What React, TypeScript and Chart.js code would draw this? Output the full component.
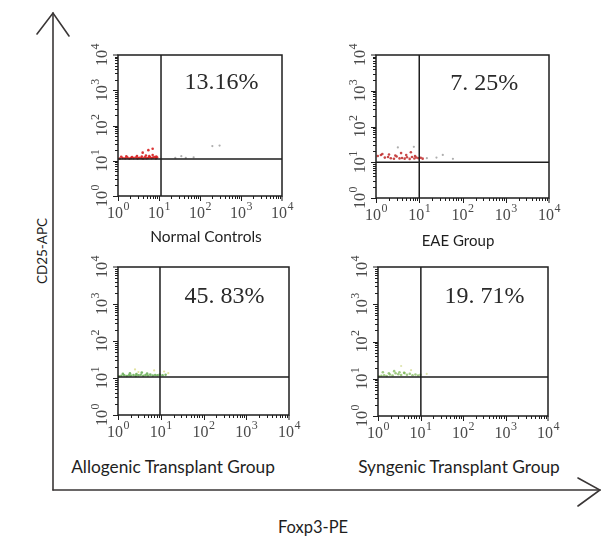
import React, { useEffect, useRef } from 'react';
import { Chart, registerables } from 'chart.js';

Chart.register(...registerables);

// ---------- data ----------
const panelNames = ['Normal Controls', 'EAE Group', 'Allogenic Transplant Group', 'Syngenic Transplant Group'];
const percentLabels = ['13.16%', '7. 25%', '45. 83%', '19. 71%'];
const decadeExponents = ['0', '1', '2', '3', '4'];
const gateX = [11.2, 10, 9.6, 10.2];
const gateY = [11.2, 10, 10.7, 11.2];

const normalX = [1.1, 1.3, 1.5, 1.7, 1.9, 2.1, 2.4, 2.7, 3.0, 3.3, 3.7, 4.1, 4.5, 5.0, 5.5, 6.0, 6.6, 7.2, 7.8, 8.4, 9.0, 1.2, 1.6, 2.2, 2.9, 3.8, 4.8, 5.8, 7.0, 8.6, 5.5, 7.0, 4.0];
const normalY = [11.5, 12.0, 11.8, 12.3, 11.6, 12.1, 11.9, 12.4, 11.7, 12.2, 12.0, 11.6, 12.5, 11.8, 12.2, 12.6, 11.9, 12.3, 12.8, 11.7, 12.4, 13.0, 13.4, 12.8, 13.6, 13.2, 14.0, 13.5, 14.5, 13.1, 20, 22, 17];
const normalOtherX = [35, 45, 200, 300, 70, 25];
const normalOtherY = [13.5, 12, 26, 27, 12.5, 12];

const eaeX = [1.1, 1.3, 1.6, 1.9, 2.2, 2.6, 3.0, 3.5, 4.0, 4.6, 5.2, 6.0, 6.8, 7.7, 8.6, 9.6, 10.8, 12.0, 1.4, 2.0, 2.8, 3.8, 5.0, 6.4, 8.0];
const eaeY = [15, 16, 13.5, 14, 13, 12.5, 14.5, 12.8, 13.2, 12.6, 13.8, 12.4, 14, 12.7, 13.6, 12.9, 13.3, 12.6, 17, 16.5, 15.5, 18, 16, 19, 15];
const eaeOtherX = [3.2, 7.5, 25, 35, 60, 15];
const eaeOtherY = [26, 27, 13.5, 16, 12.5, 13];

const alloX = [1.05, 1.2, 1.4, 1.6, 1.8, 2.0, 2.3, 2.6, 3.0, 3.4, 3.9, 4.4, 5.0, 5.7, 6.5, 7.4, 8.4, 9.5, 11, 13, 1.3, 1.9, 2.7, 3.6, 4.8];
const alloY = [11.2, 11.5, 11.8, 11.3, 11.9, 11.6, 12.0, 11.4, 11.8, 12.2, 11.5, 12.0, 11.7, 12.3, 11.6, 12.1, 11.8, 12.4, 11.9, 12.2, 13, 13.4, 12.8, 14, 13.2];
const alloOtherX = [2.5, 3.0, 7.0, 12, 15];
const alloOtherY = [17, 14.5, 16, 15, 13.5];

const syngX = [1.05, 1.2, 1.4, 1.6, 1.9, 2.2, 2.6, 3.0, 3.5, 4.1, 4.8, 5.6, 6.5, 7.6, 8.8, 10, 1.3, 1.8, 2.4, 3.2, 4.2];
const syngY = [11.6, 12, 12.4, 11.8, 13, 12.2, 14, 13.2, 12.6, 14.5, 12.8, 13.6, 12.4, 13, 12.2, 12.8, 15, 14, 16, 15, 14.2];
const syngOtherX = [3.5, 6.0, 14];
const syngOtherY = [22, 17, 13.5];

const mainX = [normalX, eaeX, alloX, syngX];
const mainY = [normalY, eaeY, alloY, syngY];
const otherX = [normalOtherX, eaeOtherX, alloOtherX, syngOtherX];
const otherY = [normalOtherY, eaeOtherY, alloOtherY, syngOtherY];

// ---------- layout / style ----------
const plotRects = [
  { l: 118, t: 55, r: 282, b: 196 },
  { l: 376, t: 55, r: 549, b: 198 },
  { l: 118, t: 267, r: 289, b: 415 },
  { l: 378, t: 267, r: 548, b: 416 },
];
const captionPos = [
  { x: 206, y: 236, size: 15.5 },
  { x: 458, y: 240, size: 15 },
  { x: 173, y: 466, size: 17.3 },
  { x: 459, y: 466, size: 17.3 },
];
const mainColors = ['rgba(215,30,30,0.9)', 'rgba(190,40,40,0.85)', 'rgba(90,165,70,0.8)', 'rgba(120,180,80,0.7)'];
const otherColors = ['rgba(120,120,120,0.6)', 'rgba(120,120,120,0.6)', 'rgba(215,215,120,0.7)', 'rgba(200,210,120,0.6)'];
const PAD = { left: 45, top: 15, right: 20, bottom: 35 };

function drawPow(ctx: CanvasRenderingContext2D, exp: string) {
  ctx.font = '16px "Liberation Serif"';
  const w1 = ctx.measureText('10').width;
  ctx.font = '12px "Liberation Serif"';
  const w2 = ctx.measureText(exp).width;
  const x0 = -(w1 + w2) / 2;
  ctx.font = '16px "Liberation Serif"';
  ctx.fillText('10', x0, 0);
  ctx.font = '12px "Liberation Serif"';
  ctx.fillText(exp, x0 + w1 + 0.5, -8);
}

const flowPlugin = {
  id: 'flowFrame',
  afterDatasetsDraw(chart: any, _args: any, opts: any) {
    const idx = opts.index;
    const { ctx, chartArea: a, scales } = chart;
    const xs = scales.x;
    const ys = scales.y;
    ctx.save();
    ctx.strokeStyle = '#1e1e1e';
    // ticks
    ctx.lineWidth = 1;
    ctx.beginPath();
    for (let d = 0; d < 4; d++) {
      for (let m = 1; m <= 9; m++) {
        const v = m * Math.pow(10, d);
        const len = m === 1 ? 5 : 3;
        const px = Math.round(xs.getPixelForValue(v)) + 0.5;
        ctx.moveTo(px, a.bottom);
        ctx.lineTo(px, a.bottom + len);
        const py = Math.round(ys.getPixelForValue(v)) + 0.5;
        ctx.moveTo(a.left, py);
        ctx.lineTo(a.left - len, py);
      }
    }
    const pxe = xs.getPixelForValue(10000);
    ctx.moveTo(pxe, a.bottom);
    ctx.lineTo(pxe, a.bottom + 5);
    const pye = ys.getPixelForValue(10000);
    ctx.moveTo(a.left, pye);
    ctx.lineTo(a.left - 5, pye);
    ctx.stroke();
    // frame
    ctx.lineWidth = 1.5;
    ctx.strokeRect(a.left, a.top, a.right - a.left, a.bottom - a.top);
    // gates
    const gx = xs.getPixelForValue(gateX[idx]);
    const gy = ys.getPixelForValue(gateY[idx]);
    ctx.beginPath();
    ctx.moveTo(gx, a.top);
    ctx.lineTo(gx, a.bottom);
    ctx.moveTo(a.left, gy);
    ctx.lineTo(a.right, gy);
    ctx.stroke();
    // tick labels
    ctx.fillStyle = '#4a4a4a';
    ctx.textBaseline = 'alphabetic';
    ctx.textAlign = 'left';
    decadeExponents.forEach((e, i) => {
      const v = Math.pow(10, i);
      ctx.save();
      ctx.translate(xs.getPixelForValue(v), a.bottom + 22);
      drawPow(ctx, e);
      ctx.restore();
      ctx.save();
      ctx.translate(a.left - 11, ys.getPixelForValue(v));
      ctx.rotate(-Math.PI / 2);
      drawPow(ctx, e);
      ctx.restore();
    });
    // percentage
    ctx.fillStyle = '#2a2a2a';
    ctx.font = '24px "Liberation Serif"';
    ctx.textAlign = 'center';
    ctx.textBaseline = 'middle';
    const cx = (gx + a.right) / 2;
    ctx.fillText(percentLabels[idx], cx, ys.getPixelForValue(1600));
    ctx.restore();
  },
};

function Panel({ index }: { index: number }) {
  const ref = useRef<HTMLCanvasElement>(null);
  const r = plotRects[index];
  const w = r.r - r.l + PAD.left + PAD.right;
  const h = r.b - r.t + PAD.top + PAD.bottom;
  useEffect(() => {
    if (!ref.current) return;
    const main = mainX[index].map((x, i) => ({ x, y: mainY[index][i] }));
    const other = otherX[index].map((x, i) => ({ x, y: otherY[index][i] }));
    const chart = new Chart(ref.current, {
      type: 'scatter',
      data: {
        datasets: [
          { data: other, backgroundColor: otherColors[index], borderWidth: 0, pointRadius: 1.1 },
          { data: main, backgroundColor: mainColors[index], borderWidth: 0, pointRadius: 1.3 },
        ],
      },
      options: {
        responsive: false,
        animation: false,
        layout: { padding: PAD },
        plugins: {
          legend: { display: false },
          tooltip: { enabled: false },
          flowFrame: { index },
        } as any,
        scales: {
          x: { type: 'logarithmic', min: 1, max: 10000, display: false },
          y: { type: 'logarithmic', min: 1, max: 10000, display: false },
        },
      },
      plugins: [flowPlugin],
    });
    return () => chart.destroy();
  }, [index]);
  return (
    <canvas
      ref={ref}
      width={w}
      height={h}
      style={{ position: 'absolute', left: r.l - PAD.left, top: r.t - PAD.top, width: w, height: h }}
    />
  );
}

const labelStyle: React.CSSProperties = {
  position: 'absolute',
  transform: 'translate(-50%, -50%)',
  whiteSpace: 'nowrap',
  fontFamily: 'Lato, "Open Sans", sans-serif',
  fontSize: 15,
  color: '#1e1e1e',
};

export default function App() {
  return (
    <div style={{ position: 'absolute', left: 0, top: 0, width: 601, height: 557, background: '#fff', overflow: 'hidden' }}>
      <svg width={601} height={557} style={{ position: 'absolute', left: 0, top: 0 }}>
        <g stroke="#3a3636" strokeWidth={1.6} fill="none" strokeLinecap="round">
          <line x1={53} y1={13} x2={53} y2={490} />
          <line x1={53} y1={490} x2={600} y2={490} />
          <polyline points="37,34 53,13 69,36" />
          <polyline points="578,478 600,490 578,506" />
        </g>
      </svg>
      {[0, 1, 2, 3].map((i) => (
        <Panel key={i} index={i} />
      ))}
      {panelNames.map((n, i) => (
        <div key={n} style={{ ...labelStyle, fontSize: captionPos[i].size, left: captionPos[i].x, top: captionPos[i].y }}>
          {n}
        </div>
      ))}
      <div style={{ ...labelStyle, fontSize: 13.5, left: 42, top: 251, transform: 'translate(-50%, -50%) rotate(-90deg)' }}>CD25-APC</div>
      <div style={{ ...labelStyle, fontSize: 16.5, left: 313, top: 527 }}>Foxp3-PE</div>
    </div>
  );
}
